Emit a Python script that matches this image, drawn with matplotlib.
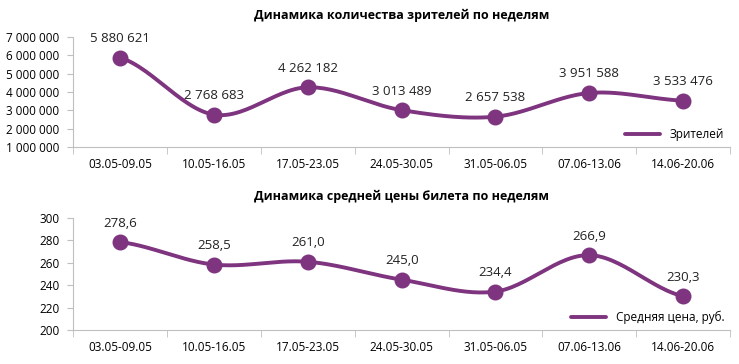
import numpy as np
import matplotlib
matplotlib.use("Agg")
from matplotlib import pyplot as plt

weeks = ["03.05-09.05", "10.05-16.05", "17.05-23.05", "24.05-30.05",
         "31.05-06.05", "07.06-13.06", "14.06-20.06"]
viewers = [5880621, 2768683, 4262182, 3013489, 2657538, 3951588, 3533476]
prices = [278.6, 258.5, 261.0, 245.0, 234.4, 266.9, 230.3]

PURPLE = "#7e347f"
GRID = "#bfbfbf"
plt.rcParams['font.family'] = ['Open Sans', 'DejaVu Sans']


def smooth(x, y, n=30):
    # catmull-rom through the points, like excel "smoothed line"
    x = np.asarray(x, float)
    y = np.asarray(y, float)
    px = np.concatenate([[2 * x[0] - x[1]], x, [2 * x[-1] - x[-2]]])
    py = np.concatenate([[y[0]], y, [y[-1]]])
    xs, ys = [], []
    t = np.linspace(0, 1, n)
    for i in range(1, len(px) - 2):
        p0, p1, p2, p3 = [np.array([px[j], py[j]]) for j in range(i - 1, i + 3)]
        c1 = p1 + (p2 - p0) / 6
        c2 = p2 - (p3 - p1) / 6
        pts = ((1 - t)[:, None] ** 3 * p1 + 3 * ((1 - t) ** 2 * t)[:, None] * c1
               + 3 * ((1 - t) * t ** 2)[:, None] * c2 + (t ** 3)[:, None] * p2)
        xs.extend(pts[:, 0])
        ys.extend(pts[:, 1])
    return xs, ys


def fmt_space(v):
    return "{:,.0f}".format(v).replace(",", " ")


def draw(ax, values, labels, ylim, yticks, yfmt, title, legend_label):
    x = np.arange(len(weeks))
    sx, sy = smooth(x, values)
    ax.plot(sx, sy, color=PURPLE, lw=2.8, solid_capstyle="round", label=legend_label)
    ax.plot(x, values, "o", color=PURPLE, ms=10.5)
    for xi, v, lab in zip(x, values, labels):
        ax.annotate(lab, (xi, v), xytext=(0, 9), textcoords="offset points",
                    ha="center", va="bottom", fontsize=9.5, color="#222222")
    ax.set_xlim(-0.5, len(weeks) - 0.5)
    ax.set_ylim(*ylim)
    ax.set_yticks(yticks)
    ax.set_yticklabels([yfmt(t) for t in yticks], fontsize=8.5)
    ax.set_xticks(x)
    ax.set_xticklabels(weeks, fontsize=8.5)
    ax.set_xticks(np.arange(len(weeks) + 1) - 0.5, minor=True)
    ax.tick_params(axis="x", which="major", length=0, pad=8)
    ax.tick_params(axis="x", which="minor", length=5, color=GRID)
    ax.tick_params(axis="y", length=4, color=GRID, pad=6)
    for s in ["top", "right"]:
        ax.spines[s].set_visible(False)
    for s in ["left", "bottom"]:
        ax.spines[s].set_color(GRID)
    ax.set_title(title, fontsize=9, fontweight="bold", pad=13, x=0.5)
    ax.legend(loc="lower right", frameon=False, fontsize=8.5, handlelength=3,
              borderaxespad=0.1)


fig = plt.figure(figsize=(7.39, 3.64), dpi=100)
ax1 = fig.add_axes([0.099, 0.596, 0.889, 0.302])
ax2 = fig.add_axes([0.099, 0.093, 0.889, 0.308])

draw(ax1, viewers, [fmt_space(v) for v in viewers], (1000000, 7000000),
     np.arange(1000000, 7000001, 1000000), fmt_space,
     "Динамика количества зрителей по неделям", "Зрителей")
draw(ax2, prices, ["{:.1f}".format(v).replace(".", ",") for v in prices], (200, 300),
     np.arange(200, 301, 20), lambda t: str(int(t)),
     "Динамика средней цены билета по неделям", "Средняя цена, руб.")

fig.savefig("out.png", dpi=100)
